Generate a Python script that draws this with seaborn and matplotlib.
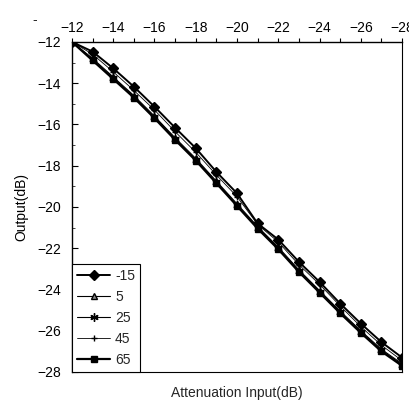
import numpy as np
import pandas as pd
import matplotlib
matplotlib.use("Agg")
import matplotlib.pyplot as plt
import seaborn as sns

# ── datos ───────────────────────────────────────────────────────────────────
atten_input = [-12, -13, -14, -15, -16, -17, -18, -19, -20, -21, -22, -23, -24, -25, -26, -27, -28]
out_m15 = [-12.0, -12.47, -13.28, -14.17, -15.14, -16.16, -17.15, -18.3, -19.34, -20.8, -21.58, -22.66, -23.63, -24.68, -25.65, -26.55, -27.3]
out_5 = [-12.0, -12.8, -13.7, -14.6, -15.6, -16.65, -17.65, -18.75, -19.85, -20.95, -21.95, -23.05, -24.05, -25.05, -26.0, -26.9, -27.6]
out_25 = [-12.0, -12.85, -13.75, -14.65, -15.65, -16.7, -17.7, -18.8, -19.9, -21.0, -22.0, -23.1, -24.1, -25.1, -26.05, -26.95, -27.65]
out_45 = [-12.0, -12.6, -13.45, -14.35, -15.3, -16.35, -17.35, -18.45, -19.5, -20.85, -21.7, -22.8, -23.75, -24.8, -25.8, -26.7, -27.45]
out_65 = [-12.0, -12.9, -13.8, -14.7, -15.7, -16.75, -17.75, -18.85, -19.95, -21.05, -22.05, -23.15, -24.15, -25.15, -26.1, -27.0, -27.7]
temps = ["-15", "5", "25", "45", "65"]

series = {"-15": out_m15, "5": out_5, "25": out_25, "45": out_45, "65": out_65}
df = pd.concat(
    [pd.DataFrame({"input": atten_input, "output": v, "temp": k}) for k, v in series.items()],
    ignore_index=True,
)

# estilo de cada curva
estilos = {
    "-15": dict(marker="D", markersize=5, lw=1.4, mfc="black", mec="black"),
    "5": dict(marker="^", markersize=5, lw=0.8, mfc="#888888", mec="black"),
    "25": dict(marker=(6, 2, 0), markersize=6, lw=0.8, mfc="black", mec="black"),
    "45": dict(marker="+", markersize=5, lw=0.6, mfc="black", mec="black"),
    "65": dict(marker="s", markersize=4, lw=1.6, mfc="black", mec="black"),
}

sns.set_theme(style="white")
plt.rcParams["font.family"] = ["Liberation Sans", "DejaVu Sans"]

fig = plt.figure(figsize=(4.09, 4.07), dpi=100)
ax = fig.add_axes([0.176, 0.086, 0.807, 0.811])

for t in temps:
    st = estilos[t]
    sns.lineplot(
        data=df[df["temp"] == t], x="input", y="output", ax=ax,
        color="black", linewidth=st["lw"], marker=st["marker"],
        markersize=st["markersize"], markerfacecolor=st["mfc"],
        markeredgecolor=st["mec"], markeredgewidth=1.0, label=t,
    )

ax.set_xlim(-12, -28)
ax.set_ylim(-28, -12)

ax.xaxis.tick_top()
ax.set_xticks(np.arange(-12, -29, -2))
ax.set_xticks(np.arange(-12, -29, -1), minor=True)
ax.set_yticks(np.arange(-12, -29, -2))
ax.set_yticks(np.arange(-13, -28, -2), minor=True)
ax.tick_params(axis="x", which="both", direction="out", length=3, width=0.8,
               colors="black", labelsize=10, pad=2, top=True, bottom=False)
ax.tick_params(axis="y", which="major", direction="in", length=4, width=0.8,
               colors="black", labelsize=10, pad=8, left=True)
ax.tick_params(axis="y", which="minor", direction="in", length=2, width=0.6, left=True)

for s in ["top", "left"]:
    ax.spines[s].set_color("black")
    ax.spines[s].set_linewidth(1.0)
for s in ["right", "bottom"]:
    ax.spines[s].set_color("black")
    ax.spines[s].set_linewidth(0.8)
    ax.spines[s].set_linestyle((0, (1, 1)))

ax.set_xlabel("")
ax.set_ylabel("Output(dB)", fontsize=10, color="black", labelpad=6)
fig.text(0.58, 0.035, "Attenuation Input(dB)", ha="center", va="center", fontsize=10)
fig.text(0.085, 0.952, "-", ha="center", va="center", fontsize=10)

leg = ax.legend(loc="lower left", bbox_to_anchor=(0.0, 0.0), fontsize=10,
                frameon=True, fancybox=False, edgecolor="black", framealpha=1,
                handlelength=2.4, handletextpad=0.35, labelspacing=0.5,
                borderpad=0.35, borderaxespad=0.0)
leg.get_frame().set_linewidth(0.8)

fig.savefig("out.png", dpi=100)
